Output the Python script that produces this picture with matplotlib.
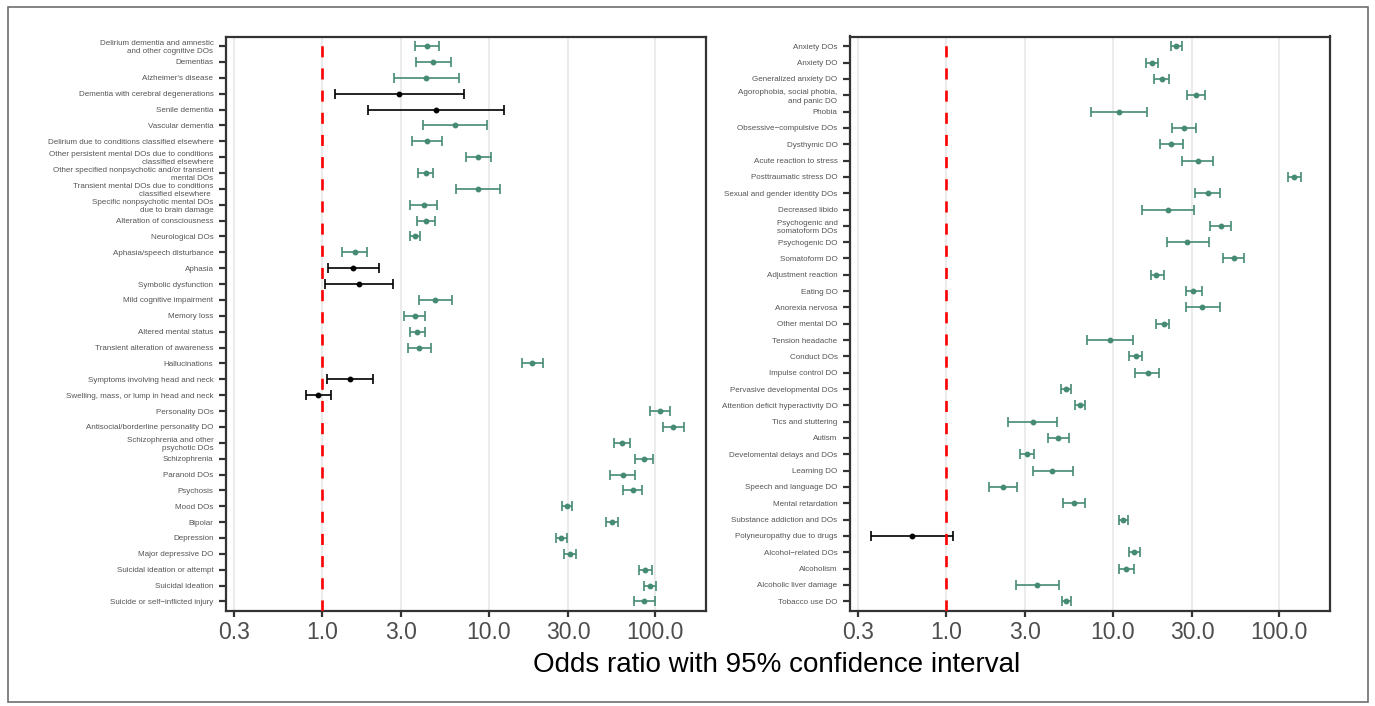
import numpy as np
import matplotlib
matplotlib.use("Agg")
import matplotlib.pyplot as plt
from matplotlib.patches import Rectangle

plt.rcParams['font.family'] = ['Liberation Sans', 'DejaVu Sans']

# Panel izquierdo: trastornos neurocognitivos, psicoticos, del animo
left_labels = [
    "Delirium dementia and amnestic\nand other cognitive DOs", "Dementias", "Alzheimer's disease",
    "Dementia with cerebral degenerations", "Senile dementia", "Vascular dementia",
    "Delirium due to conditions classified elsewhere",
    "Other persistent mental DOs due to conditions\nclassified elsewhere",
    "Other specified nonpsychotic and/or transient\nmental DOs",
    "Transient mental DOs due to conditions\nclassified elsewhere ",
    "Specific nonpsychotic mental DOs\ndue to brain damage", "Alteration of consciousness",
    "Neurological DOs", "Aphasia/speech disturbance", "Aphasia", "Symbolic dysfunction",
    "Mild cognitive impairment", "Memory loss", "Altered mental status",
    "Transient alteration of awareness", "Hallucinations", "Symptoms involving head and neck",
    "Swelling, mass, or lump in head and neck", "Personality DOs",
    "Antisocial/borderline personality DO", "Schizophrenia and other\npsychotic DOs",
    "Schizophrenia", "Paranoid DOs", "Psychosis", "Mood DOs", "Bipolar", "Depression",
    "Major depressive DO", "Suicidal ideation or attempt", "Suicidal ideation",
    "Suicide or self\u2212inflicted injury",
]
left_or = [4.25, 4.66, 4.21, 2.90, 4.84, 6.29, 4.25, 8.63, 4.20, 8.63, 4.08, 4.24,
           3.62, 1.58, 1.55, 1.67, 4.80, 3.60, 3.74, 3.83, 18.3, 1.48, 0.95, 107,
           128, 63.1, 85.9, 63.7, 73.1, 29.4, 55.0, 27.2, 30.7, 87.1, 92.9, 85.9]
left_lo = [3.60, 3.67, 2.70, 1.20, 1.90, 4.03, 3.46, 7.31, 3.77, 6.40, 3.38, 3.74,
           3.38, 1.32, 1.09, 1.05, 3.83, 3.10, 3.40, 3.27, 15.9, 1.08, 0.81, 93.3,
           111, 56.5, 75.9, 53.5, 64.3, 27.4, 50.4, 25.3, 28.5, 80.2, 85.1, 74.5]
left_hi = [5.04, 5.92, 6.61, 7.08, 12.3, 9.77, 5.23, 10.3, 4.64, 11.7, 4.91, 4.80,
           3.88, 1.88, 2.20, 2.69, 6.03, 4.18, 4.14, 4.49, 21.1, 2.02, 1.13, 122,
           149, 70.2, 97.3, 75.9, 83.2, 31.5, 60.0, 29.4, 33.3, 95.1, 101, 99.0]
left_sig = [1, 1, 1, 0, 0, 1, 1, 1, 1, 1, 1, 1, 1, 1, 0, 0, 1, 1, 1, 1, 1, 0, 0, 1,
            1, 1, 1, 1, 1, 1, 1, 1, 1, 1, 1, 1]

# Panel derecho: ansiedad, desarrollo, sustancias
right_labels = [
    "Anxiety DOs", "Anxiety DO", "Generalized anxiety DO",
    "Agorophobia, social phobia,\nand panic DO", "Phobia", "Obsessive\u2212compulsive DOs",
    "Dysthymic DO", "Acute reaction to stress", "Posttraumatic stress DO",
    "Sexual and gender identity DOs", "Decreased libido", "Psychogenic and\nsomatoform DOs",
    "Psychogenic DO", "Somatoform DO", "Adjustment reaction", "Eating DO", "Anorexia nervosa",
    "Other mental DO", "Tension headache", "Conduct DOs", "Impulse control DO",
    "Pervasive developmental DOs", "Attention deficit hyperactivity DO", "Tics and stuttering",
    "Autism", "Develomental delays and DOs", "Learning DO", "Speech and language DO",
    "Mental retardation", "Substance addiction and DOs", "Polyneuropathy due to drugs",
    "Alcohol\u2212related DOs", "Alcoholism", "Alcoholic liver damage", "Tobacco use DO",
]
right_or = [24.1, 17.3, 19.8, 31.7, 10.9, 26.7, 22.5, 32.3, 123, 37.2, 21.5, 44.6,
            28.1, 53.8, 18.3, 30.5, 34.6, 20.2, 9.6, 13.9, 16.2, 5.23, 6.35, 3.32,
            4.69, 3.05, 4.31, 2.22, 5.84, 11.6, 0.626, 13.5, 12.1, 3.51, 5.23]
right_lo = [22.5, 15.9, 17.8, 28.0, 7.38, 22.7, 19.3, 26.1, 113, 31.0, 15.1, 38.6,
            21.3, 46.2, 16.9, 27.4, 27.7, 18.3, 6.99, 12.6, 13.7, 4.88, 5.92, 2.35,
            4.08, 2.77, 3.32, 1.83, 5.02, 11.0, 0.359, 12.5, 11.0, 2.63, 4.95]
right_hi = [26.0, 18.7, 21.9, 35.9, 16.1, 31.8, 26.4, 40.1, 134, 44.3, 30.8, 51.4,
            37.6, 61.7, 20.2, 34.6, 44.3, 21.9, 13.2, 15.1, 19.1, 5.60, 6.80, 4.62,
            5.45, 3.36, 5.76, 2.66, 6.80, 12.3, 1.10, 14.7, 13.4, 4.75, 5.60]
right_sig = [1] * 30 + [0] + [1] * 4

x_ticks = [0.3, 1.0, 3.0, 10.0, 30.0, 100.0]
x_tick_labels = ["0.3", "1.0", "3.0", "10.0", "30.0", "100.0"]

GREEN = "#458B74"
W, H = 1375, 706


def draw_panel(ax, labels, odds, lo, hi, sig):
    odds, lo, hi, sig = map(np.asarray, (odds, lo, hi, sig))
    n = len(labels)
    y = np.arange(n)
    ax.set_xscale("log")
    ax.set_xlim(0.267, 201)
    ax.set_ylim(n - 1 + 0.6, -0.6)
    ax.grid(axis="x", color="#ebebeb", linewidth=1.5, zorder=0)
    ax.set_axisbelow(True)
    for mask, col in ((sig == 1, GREEN), (sig == 0, "black")):
        ax.errorbar(odds[mask], y[mask],
                    xerr=[odds[mask] - lo[mask], hi[mask] - odds[mask]],
                    fmt="o", color=col, ecolor=col, markersize=3.2,
                    elinewidth=1.2, capsize=3.6, capthick=1.2, zorder=3)
    ax.axvline(1.0, color="red", linewidth=1.9, linestyle=(0, (4.2, 4.2)), zorder=4)
    ax.set_yticks(y)
    ax.set_yticklabels(labels, fontsize=5.8, color="#555555", linespacing=1.25)
    ax.set_xticks(x_ticks)
    ax.set_xticklabels(x_tick_labels, fontsize=16.5, color="#4d4d4d")
    ax.xaxis.set_minor_locator(matplotlib.ticker.NullLocator())
    ax.tick_params(axis="y", length=5, width=1.6, color="#333333", pad=4)
    ax.tick_params(axis="x", length=4.5, width=1.6, color="#333333", pad=3)
    for sp in ax.spines.values():
        sp.set_color("#333333")
        sp.set_linewidth(1.6)


fig = plt.figure(figsize=(W / 100, H / 100), dpi=100)
fig.patch.set_facecolor("white")

bottom = 1 - 611 / H
height = (611 - 36.5) / H
ax1 = fig.add_axes([226 / W, bottom, 480 / W, height])
ax2 = fig.add_axes([850 / W, bottom, 480 / W, height])

draw_panel(ax1, left_labels, left_or, left_lo, left_hi, left_sig)
draw_panel(ax2, right_labels, right_or, right_lo, right_hi, right_sig)

fig.text(777 / W, 1 - 665 / H, "Odds ratio with 95% confidence interval",
         ha="center", va="center", fontsize=20, color="black")

# marco exterior
fig.patches.append(Rectangle((8 / W, 1 - 702 / H), 1360 / W, 695 / H,
                             transform=fig.transFigure, fill=False,
                             edgecolor="#6e6e6e", linewidth=1.2))

fig.savefig("out.png", dpi=100)
